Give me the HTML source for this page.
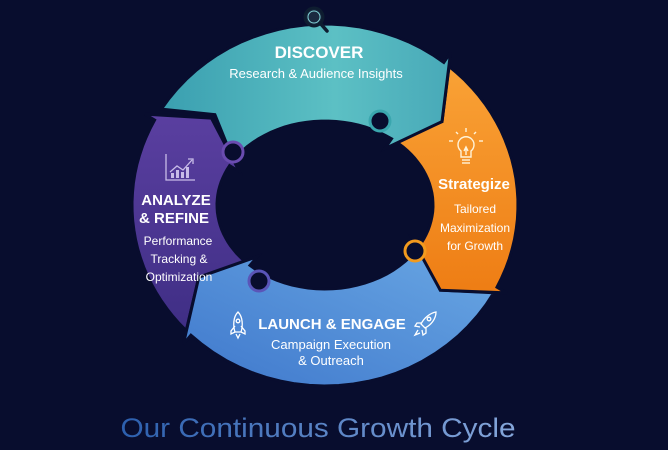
<!DOCTYPE html>
<html><head><meta charset="utf-8"><style>
html,body{margin:0;padding:0;background:#080d2e;width:668px;height:450px;overflow:hidden}
svg{display:block}
text{font-family:"Liberation Sans",sans-serif;fill:#fff}
</style></head><body>
<svg id="s" width="668" height="450" viewBox="0 0 668 450" xmlns="http://www.w3.org/2000/svg">
<defs>
<linearGradient id="gT" x1="0" y1="0" x2="1" y2="0"><stop offset="0" stop-color="#3a9fb0"/><stop offset="0.6" stop-color="#5cc0c4"/><stop offset="1" stop-color="#48a9b8"/></linearGradient>
<linearGradient id="gO" x1="0" y1="0" x2="0" y2="1"><stop offset="0" stop-color="#f9a236"/><stop offset="1" stop-color="#ee7d14"/></linearGradient>
<linearGradient id="gB" x1="1" y1="0" x2="0" y2="1"><stop offset="0" stop-color="#6aa8e4"/><stop offset="1" stop-color="#3f78cc"/></linearGradient>
<linearGradient id="gP" x1="0" y1="0" x2="0" y2="1"><stop offset="0" stop-color="#5a3fa0"/><stop offset="1" stop-color="#3f2e85"/></linearGradient>
<linearGradient id="gTitle" x1="0" y1="0" x2="1" y2="0"><stop offset="0" stop-color="#2c5fae"/><stop offset="1" stop-color="#85a6da"/></linearGradient>
</defs>
<g id="ring"></g>
<circle cx="380" cy="121" r="10" fill="#080d2e" stroke="#3aa6ae" stroke-width="3"/>
<circle cx="415" cy="251" r="10" fill="#080d2e" stroke="#f29a1e" stroke-width="3"/>
<circle cx="259" cy="281" r="10" fill="#080d2e" stroke="#5a55b8" stroke-width="3"/>
<circle cx="233" cy="152" r="10" fill="#080d2e" stroke="#6a4cb0" stroke-width="3"/>
<circle cx="314" cy="17" r="9" fill="#1a2a40" stroke="#0e1d30" stroke-width="3"/>
<circle cx="314" cy="17" r="6" fill="none" stroke="#7fd0d4" stroke-width="1"/>
<line x1="320" y1="23" x2="327" y2="31" stroke="#0e1d30" stroke-width="3.5" stroke-linecap="round"/>
<text x="319" y="58" font-size="17" font-weight="bold" text-anchor="middle">DISCOVER</text>
<text x="316" y="78" font-size="13" text-anchor="middle" fill="#e8f6f6">Research &amp; Audience Insights</text>
<g stroke="#fff3d8" stroke-width="1.4" fill="none">
<path d="M461 151 a8 8 0 1 1 10 0 v6 h-10 z"/>
<line x1="462" y1="160" x2="470" y2="160"/><line x1="462" y1="163" x2="470" y2="163"/>
<path d="M464 151 l2 -4 l2 4 M466 147 v8"/>
<line x1="466" y1="128" x2="466" y2="132"/><line x1="453" y1="141" x2="449" y2="141"/><line x1="479" y1="141" x2="483" y2="141"/>
<line x1="456" y1="132" x2="458" y2="134"/><line x1="476" y1="132" x2="474" y2="134"/>
</g>
<text x="474" y="189" font-size="15" font-weight="bold" text-anchor="middle">Strategize</text>
<text font-size="12" text-anchor="middle" fill="#fff4e6"><tspan x="475" y="213">Tailored</tspan><tspan x="475" y="232">Maximization</tspan><tspan x="475" y="250">for Growth</tspan></text>
<g stroke="#c8bce8" stroke-width="1.3" fill="none">
<path d="M166 154 v26 h29"/>
<path d="M170 172 l7 -6 l6 4 l9 -10"/><path d="M188 159 h5 v5"/>
</g>
<g fill="#c8bce8"><rect x="171" y="173" width="3" height="5"/><rect x="176" y="170" width="3" height="8"/><rect x="181" y="172" width="3" height="6"/><rect x="186" y="167" width="3" height="11"/></g>
<text x="176" y="205" font-size="15" font-weight="bold" text-anchor="middle">ANALYZE</text>
<text x="174" y="223" font-size="15" font-weight="bold" text-anchor="middle">&amp; REFINE</text>
<text font-size="12" text-anchor="middle" fill="#ece6fa"><tspan x="178" y="245">Performance</tspan><tspan x="179" y="263">Tracking &amp;</tspan><tspan x="179" y="281">Optimization</tspan></text>
<g stroke="#fff" stroke-width="1.3" fill="none">
<path d="M238 312 c-5 5 -5 14 -3 20 h6 c2 -6 2 -15 -3 -20 z"/><circle cx="238" cy="321" r="1.8"/>
<path d="M235 326 l-4 5 v3 l4 -2 M241 326 l4 5 v3 l-4 -2"/><path d="M236 334 l2 4 l2 -4"/>
<path d="M436 312 c-6 1 -12 6 -15 12 l4 4 c6 -3 11 -9 11 -16 z"/><circle cx="429" cy="319" r="1.8"/>
<path d="M422 323 l-5 0 l-2 3 l5 1 M426 328 l0 5 l-3 2 l-1 -5"/><path d="M418 330 l-3 5 l5 -2"/>
</g>
<text x="332" y="329" font-size="15" font-weight="bold" text-anchor="middle">LAUNCH &amp; ENGAGE</text>
<text font-size="13" text-anchor="middle" fill="#eef5ff"><tspan x="331" y="349">Campaign Execution</tspan><tspan x="331" y="365">&amp; Outreach</tspan></text>
<text x="318" y="437" font-size="27" font-weight="500" text-anchor="middle" textLength="395" lengthAdjust="spacingAndGlyphs" style="fill:url(#gTitle)">Our Continuous Growth Cycle</text>
</svg>
<script>
(function(){
var cx=325,cy=205,RX=193,RY=181,rx=108,ry=84;
function P(a,k){var t=a*Math.PI/180;var X=rx+(RX-rx)*k,Y=ry+(RY-ry)*k;return (cx+X*Math.cos(t)).toFixed(1)+' '+(cy+Y*Math.sin(t)).toFixed(1);}
function seg(a0,a1,fill){
  var d='M'+P(a0,1);var n=24,i;
  for(i=1;i<=n;i++)d+=' L'+P(a0+(a1-a0)*i/n,1);
  d+=' L'+P(a1,1.13)+' L'+P(a1+13,0.5)+' L'+P(a1,-0.13);
  for(i=n;i>=0;i--)d+=' L'+P(a0+(a1-a0)*i/n,0);
  d+=' L'+P(a0+11,0.5)+' Z';
  var p=document.createElementNS('http://www.w3.org/2000/svg','path');
  p.setAttribute('d',d);p.setAttribute('fill',fill);p.setAttribute('stroke','#080d2e');p.setAttribute('stroke-width','3');p.setAttribute('stroke-linejoin','miter');
  document.getElementById('ring').appendChild(p);
}
seg(136,208,'url(#gP)');
seg(29,134,'url(#gB)');
seg(-50,27,'url(#gO)');
seg(212,308,'url(#gT)');
})();
</script>
</body></html>
